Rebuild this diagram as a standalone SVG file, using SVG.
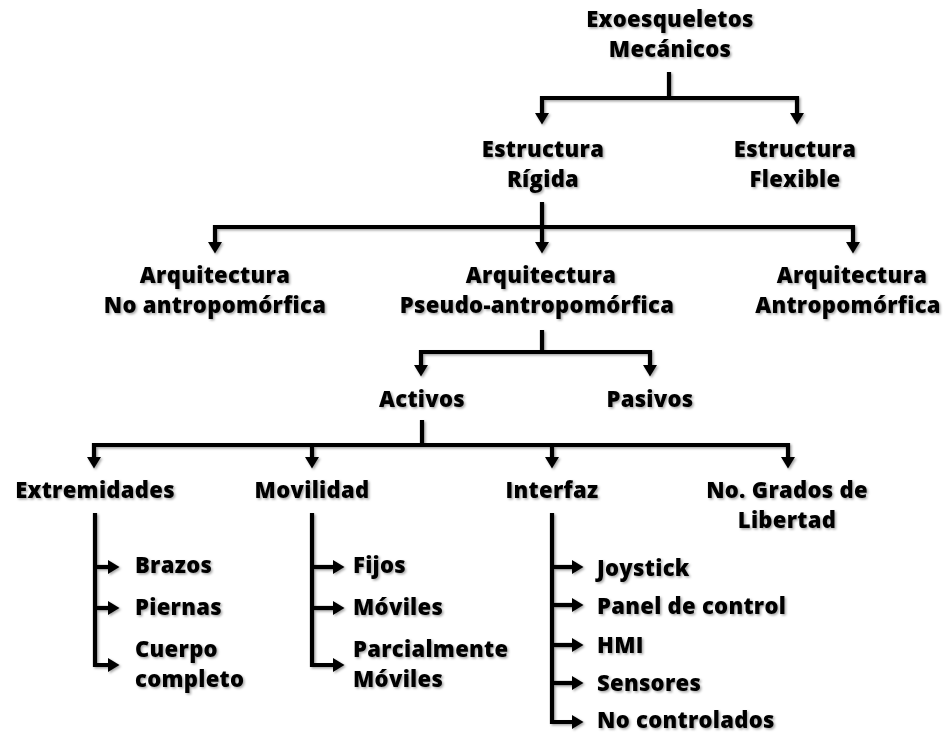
<svg xmlns="http://www.w3.org/2000/svg" width="949" height="734" viewBox="0 0 949 734">
<defs>
<filter id="sh" x="-10%" y="-10%" width="130%" height="140%">
<feDropShadow dx="1.5" dy="1.5" stdDeviation="1" flood-color="#000" flood-opacity="0.35"/>
</filter>
<marker id="ah" markerUnits="userSpaceOnUse" markerWidth="12" markerHeight="14" refX="4" refY="7" orient="auto-start-reverse" viewBox="0 0 12 14">
<path d="M0,0 L11.5,7 L0,14 z" fill="#000"/>
</marker>
<style>
text{font-family:"Open Sans","Liberation Sans",sans-serif;font-weight:800;font-size:22px;letter-spacing:0.3px;fill:#000}
.c{text-anchor:middle}
.l{text-anchor:start}
.conn path{fill:none;stroke:#000;stroke-width:4.2;stroke-linejoin:miter}
.a{marker-end:url(#ah)}
.b{marker-start:url(#ah);marker-end:url(#ah)}
</style>
</defs>
<rect width="949" height="734" fill="#fff"/>
<g id="connectors" class="conn" filter="url(#sh)">
<path d="M669,72 V98"/>
<path class="b" d="M542,117 V98 H797 V117"/>
<path class="a" d="M542,202 V246"/>
<path class="b" d="M215,246 V227 H853 V246"/>
<path d="M542,330 V352"/>
<path class="b" d="M421,369 V352 H650 V369"/>
<path d="M422,420 V445"/>
<path class="b" d="M94,461 V445 H788 V461"/>
<path class="a" d="M312,445 V461"/>
<path class="a" d="M552,445 V461"/>
<path class="a" d="M95,513 V665 H112"/>
<path class="a" d="M95,567 H112"/>
<path class="a" d="M95,608 H112"/>
<path class="a" d="M312,513 V665 H337"/>
<path class="a" d="M312,567 H337"/>
<path class="a" d="M312,608 H337"/>
<path class="a" d="M552,513 V722 H576"/>
<path class="a" d="M552,567 H576"/>
<path class="a" d="M552,605 H576"/>
<path class="a" d="M552,645 H576"/>
<path class="a" d="M552,683 H576"/>
</g>
<g filter="url(#sh)">
<g id="exo"><text class="c" x="670" y="27">Exoesqueletos</text><text class="c" x="670" y="57">Mecánicos</text></g>
<g id="rigida"><text class="c" x="543" y="157">Estructura</text><text class="c" x="543" y="187">Rígida</text></g>
<g id="flexible"><text class="c" x="795" y="157">Estructura</text><text class="c" x="795" y="187">Flexible</text></g>
<g id="noantro"><text class="c" x="215" y="283">Arquitectura</text><text class="c" x="215" y="313">No antropomórfica</text></g>
<g id="pseudo"><text class="c" x="541" y="283">Arquitectura</text><text class="c" x="537" y="313">Pseudo-antropomórfica</text></g>
<g id="antro"><text class="c" x="852" y="283">Arquitectura</text><text class="c" x="848" y="313">Antropomórfica</text></g>
<g id="activos"><text class="c" x="422" y="407">Activos</text></g>
<g id="pasivos"><text class="c" x="650" y="407">Pasivos</text></g>
<g id="extremidades"><text class="c" x="95" y="498">Extremidades</text></g>
<g id="movilidad"><text class="c" x="312" y="498">Movilidad</text></g>
<g id="interfaz"><text class="c" x="552" y="498">Interfaz</text></g>
<g id="grados"><text class="c" x="787" y="498">No. Grados de</text><text class="c" x="787" y="528">Libertad</text></g>
<g id="brazos"><text class="l" x="135" y="573">Brazos</text></g>
<g id="piernas"><text class="l" x="135" y="615">Piernas</text></g>
<g id="cuerpo"><text class="l" x="135" y="657">Cuerpo</text><text class="l" x="135" y="687">completo</text></g>
<g id="fijos"><text class="l" x="353" y="573">Fijos</text></g>
<g id="moviles"><text class="l" x="353" y="615">Móviles</text></g>
<g id="parcial"><text class="l" x="353" y="657">Parcialmente</text><text class="l" x="353" y="687">Móviles</text></g>
<g id="joystick"><text class="l" x="597" y="576">Joystick</text></g>
<g id="panel"><text class="l" x="597" y="614">Panel de control</text></g>
<g id="hmi"><text class="l" x="597" y="653">HMI</text></g>
<g id="sensores"><text class="l" x="597" y="691">Sensores</text></g>
<g id="nocontrol"><text class="l" x="597" y="728">No controlados</text></g>
</g>
</svg>
